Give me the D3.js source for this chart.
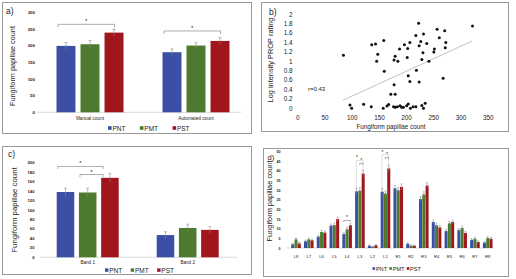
<!DOCTYPE html>
<html>
<head>
<meta charset="utf-8">
<script src="https://cdn.jsdelivr.net/npm/d3@7"></script>
<style>
  body { margin: 0; background: #fff; }
  svg text { font-family: "Liberation Sans", Arial, sans-serif; fill: #222; }
</style>
</head>
<body>
<div id="fig"></div>
<script>
// ---- data ----
var seriesNames = ["PNT", "PMT", "PST"];
var seriesColors = ["#3b4fa4", "#4d7a2e", "#a1161d"];

// a) total counts
var countCats = ["Manual count", "Automated count"];
var countPNT = [200, 181];
var countPMT = [205, 201];
var countPST = [240, 215];
var countErrPNT = [10, 10];
var countErrPMT = [11, 9];
var countErrPST = [10, 10];
var countTicks = [0, 50, 100, 150, 200, 250, 300];

// b) scatter PROP rating vs count  [count, log intensity]
var propPoints = [
  [84, 1.13], [96, 0.07], [99, 0], [121, 0.085], [135, 0.035], [136, 1.35], [143, 1.37],
  [145, 1.0], [147, 1.15], [158, 1.44], [159, 0.79], [157, 0], [164, 0.05], [167, 0.08],
  [171, 0.30], [179, 0.30], [177, 0.50], [177, 1.03], [179, 1.11], [184, 1.0], [176, 0.035],
  [179, 0.02], [183, 0.035], [188, 0.055], [191, 0.02], [194, 0.02], [187, 1.26], [196, 1.35],
  [202, 1.27], [206, 1.40], [201, 1.08], [203, 0.69], [206, 0.57], [200, 0.055], [203, 0.09],
  [207, 0], [212, 0.035], [218, 0.81], [217, 1.55], [222, 1.81], [223, 1.33], [226, 1.42],
  [231, 1.58], [230, 1.18], [228, 1.04], [237, 1.38], [223, 0.56], [217, 0.035], [228, 0.06],
  [231, 0], [234, 0.11], [241, 1.0], [250, 1.2], [251, 1.26], [256, 1.68], [260, 1.5],
  [270, 1.65], [272, 1.40], [271, 1.29], [267, 0.64], [321, 1.75]
];
var trendX = [83, 320];
var trendY = [0.17, 1.43];
var propXTicks = [0, 50, 100, 150, 200, 250, 300, 350];
var propYTicks = [0, 0.2, 0.4, 0.6, 0.8, 1, 1.2, 1.4, 1.6, 1.8, 2];

// c) counts by band
var bandCats = ["Band 1", "Band 2"];
var bandPNT = [138, 47];
var bandPMT = [137, 62];
var bandPST = [168, 58];
var bandErrPNT = [8, 7];
var bandErrPMT = [9, 8];
var bandErrPST = [9, 7];
var bandTicks = [0, 20, 40, 60, 80, 100, 120, 140, 160, 180, 200];

// d) counts by region
var regions = ["L8", "L7", "L6", "L5", "L4", "L3", "L2", "L1", "R1", "R2", "R3", "R4", "R5", "R6", "R7", "R8"];
var regPNT = [1.9, 3.5, 5.9, 11.6, 7.3, 29.4, 1.2, 29.2, 31.0, 2.2, 25.4, 13.5, 8.8, 9.3, 4.2, 2.8];
var regPMT = [4.5, 4.5, 8.3, 11.9, 9.7, 29.8, 0.7, 28.2, 30.0, 1.2, 27.8, 11.8, 12.8, 10.4, 4.8, 5.2];
var regPST = [2.4, 4.0, 8.0, 15.0, 11.8, 38.6, 1.4, 41.3, 31.7, 1.2, 32.4, 10.7, 13.5, 7.8, 3.1, 4.8];
var regErrPNT = [0.6, 0.6, 0.7, 0.9, 0.9, 1.6, 0.4, 1.6, 1.5, 0.5, 1.3, 1.0, 0.9, 0.9, 0.7, 0.6];
var regErrPMT = [0.8, 0.7, 0.8, 1.0, 1.0, 1.5, 0.3, 1.5, 1.5, 0.4, 1.4, 1.0, 1.0, 1.0, 0.8, 0.8];
var regErrPST = [0.7, 0.7, 0.8, 1.1, 1.0, 1.8, 0.4, 1.8, 1.6, 0.4, 1.5, 1.0, 1.0, 0.9, 0.7, 0.8];
var regTicks = [0, 5, 10, 15, 20, 25, 30, 35, 40, 45, 50];

// significance brackets: category, from series, to series, height (data units), dotted?
var countSig = [["Manual count", 0, 2, 265, false], ["Automated count", 0, 2, 245, false]];
var bandSig = [["Band 1", 0, 2, 192, false], ["Band 1", 1, 2, 175, false]];
var regSig = [["L4", 0, 2, 14.3, false], ["L3", 0, 2, 45.5, true], ["L3", 1, 2, 44, false],
              ["L1", 0, 2, 48.5, true], ["L1", 1, 2, 47, false]];

var svg = d3.select("#fig").append("svg")
  .attr("width", 516)
  .attr("height", 279);

function panelBox(x, y, w, h) {
  svg.append("rect")
    .attr("x", x + 0.5).attr("y", y + 0.5)
    .attr("width", w).attr("height", h)
    .attr("fill", "#fff")
    .attr("stroke", "#9a9a9a")
    .attr("stroke-width", 1);
}

function panelLabel(label, lx, ly, fs) {
  svg.append("text")
    .attr("x", lx).attr("y", ly)
    .attr("font-size", fs)
    .attr("fill", "#111")
    .text(label);
}

// draws one grouped bar panel
function groupedBars(opt) {
  var g = svg.append("g");
  var x0 = d3.scaleBand().domain(opt.cats).range(opt.xRange);
  var x1 = d3.scaleBand().domain(seriesNames).range([-opt.groupW / 2, opt.groupW / 2]).paddingInner(opt.pad);
  var y = d3.scaleLinear().domain([0, opt.ticks[opt.ticks.length - 1]]).range(opt.yRange);
  var mid = function(c, s) { return x0(c) + x0.bandwidth() / 2 + x1(s) + x1.bandwidth() / 2; };

  // baseline
  g.append("line")
    .attr("x1", opt.baseX[0]).attr("x2", opt.baseX[1])
    .attr("y1", y(0)).attr("y2", y(0))
    .attr("stroke", "#d0d0d0").attr("stroke-width", 0.8);

  // y tick labels
  g.selectAll(".yt").data(opt.ticks).enter().append("text")
    .attr("x", opt.tickX).attr("y", function(d) { return y(d) + 1.5; })
    .attr("text-anchor", "end")
    .attr("font-size", opt.tickSize)
    .attr("font-weight", "bold")
    .attr("fill", "#333")
    .text(function(d) { return d; });

  // y title
  g.append("text")
    .attr("transform", "translate(" + opt.titleX + "," + opt.titleY + ") rotate(-90)")
    .attr("text-anchor", "middle")
    .attr("font-size", opt.titleSize)
    .text("Fungiform papillae count");

  seriesNames.forEach(function(s, si) {
    var vals = opt.values[si];
    var errs = opt.errs[si];
    g.selectAll(".bar" + si).data(opt.cats).enter().append("rect")
      .attr("x", function(c) { return x0(c) + x0.bandwidth() / 2 + x1(s); })
      .attr("y", function(c, i) { return y(vals[i]); })
      .attr("width", x1.bandwidth())
      .attr("height", function(c, i) { return y(0) - y(vals[i]); })
      .attr("fill", seriesColors[si]);
    // error bars
    g.selectAll(".err" + si).data(opt.cats).enter().append("line")
      .attr("x1", function(c) { return mid(c, s); })
      .attr("x2", function(c) { return mid(c, s); })
      .attr("y1", function(c, i) { return y(vals[i] + errs[i]); })
      .attr("y2", function(c, i) { return y(vals[i] - errs[i]); })
      .attr("stroke", "#8a8a8a").attr("stroke-width", 0.6);
    g.selectAll(".cap" + si).data(opt.cats).enter().append("line")
      .attr("x1", function(c) { return mid(c, s) - opt.capW; })
      .attr("x2", function(c) { return mid(c, s) + opt.capW; })
      .attr("y1", function(c, i) { return y(vals[i] + errs[i]); })
      .attr("y2", function(c, i) { return y(vals[i] + errs[i]); })
      .attr("stroke", "#8a8a8a").attr("stroke-width", 0.6);
  });

  // category labels
  g.selectAll(".cat").data(opt.cats).enter().append("text")
    .attr("x", function(c) { return x0(c) + x0.bandwidth() / 2; })
    .attr("y", opt.catY)
    .attr("text-anchor", "middle")
    .attr("font-size", opt.catSize)
    .attr("fill", "#333")
    .text(function(c) { return c; });

  // significance brackets
  opt.sig.forEach(function(b) {
    var c = b[0];
    var ci = opt.cats.indexOf(c);
    var xa = x0(c) + x0.bandwidth() / 2 + x1(seriesNames[b[1]]) + opt.sigInset[0];
    var xb = x0(c) + x0.bandwidth() / 2 + x1(seriesNames[b[2]]) + opt.sigInset[1];
    var yy = y(b[3]);
    var ya = b[4] ? y(opt.values[b[1]][ci]) - 2 : yy + opt.tickDown;
    var yb = b[4] ? y(opt.values[b[2]][ci]) - 2 : yy + opt.tickDown;
    g.append("path")
      .attr("d", "M" + xa + "," + ya + "V" + yy + "H" + xb + "V" + yb)
      .attr("fill", "none")
      .attr("stroke", b[4] ? "#9a9a9a" : "#777")
      .attr("stroke-width", 0.6)
      .attr("stroke-dasharray", b[4] ? "1,1" : null);
    g.append("text")
      .attr("x", b[4] ? xa + 0.5 : (xa + xb) / 2)
      .attr("y", yy - 1)
      .attr("text-anchor", "middle")
      .attr("font-size", opt.starSize)
      .text("*");
  });

  // legend: entries laid out one after the other
  var lg = g.append("g");
  var lx = opt.legendX;
  seriesNames.forEach(function(s, si) {
    lg.append("rect")
      .attr("x", lx).attr("y", opt.legendY - opt.legendSq + 0.3)
      .attr("width", opt.legendSq).attr("height", opt.legendSq)
      .attr("fill", seriesColors[si]);
    var t = lg.append("text")
      .attr("x", lx + opt.legendSq + 0.8).attr("y", opt.legendY + 1)
      .attr("font-size", opt.legendSize)
      .text(s);
    lx += opt.legendSq + 0.8 + t.node().getComputedTextLength() + opt.legendGap;
  });
}

// ---- a) ----
panelBox(2, 2, 249, 131);
groupedBars({
  cats: countCats,
  values: [countPNT, countPMT, countPST],
  errs: [countErrPNT, countErrPMT, countErrPST],
  ticks: countTicks,
  xRange: [37, 249], groupW: 67, pad: 0.21,
  yRange: [112.3, 12.7],
  baseX: [37, 241],
  tickX: 35, tickSize: 4.4,
  titleX: 15, titleY: 66, titleSize: 7.3,
  catY: 119.5, catSize: 4.7,
  capW: 1.5,
  sig: countSig, sigInset: [1.5, 10], tickDown: 3, starSize: 6,
  legendX: 108, legendY: 129.5, legendSq: 3.6, legendSize: 6.5, legendGap: 14.5
});
panelLabel("a)", 6, 14, 8.5);

// ---- c) ----
panelBox(2, 146, 249, 128);
groupedBars({
  cats: bandCats,
  values: [bandPNT, bandPMT, bandPST],
  errs: [bandErrPNT, bandErrPMT, bandErrPST],
  ticks: bandTicks,
  xRange: [37.7, 237.7], groupW: 62, pad: 0.21,
  yRange: [257.3, 162.7],
  baseX: [40, 237],
  tickX: 34.5, tickSize: 4.2,
  titleX: 17, titleY: 210, titleSize: 7.8,
  catY: 264, catSize: 4.6,
  capW: 1.3,
  sig: bandSig, sigInset: [1, 2], tickDown: 2.5, starSize: 6,
  legendX: 105, legendY: 271.5, legendSq: 3.4, legendSize: 6.5, legendGap: 8.5
});
panelLabel("c)", 8, 157, 8.5);

// ---- d) ----
panelBox(263, 148, 245, 128);
groupedBars({
  cats: regions,
  values: [regPNT, regPMT, regPST],
  errs: [regErrPNT, regErrPMT, regErrPST],
  ticks: regTicks,
  xRange: [289.6, 494.1], groupW: 9.6, pad: 0.08,
  yRange: [248, 151.7],
  baseX: [287, 494],
  tickX: 280.5, tickSize: 3.6,
  titleX: 271.5, titleY: 201, titleSize: 7.4,
  catY: 257.5, catSize: 4.2,
  capW: 0.8,
  sig: regSig, sigInset: [1.3, 1.3], tickDown: 1.5, starSize: 5,
  legendX: 372.5, legendY: 269.5, legendSq: 2.6, legendSize: 5.6, legendGap: 2.2
});
panelLabel("d)", 267.5, 160, 7.5);

// ---- b) scatter ----
panelBox(261, 2, 247, 129);
var bx = d3.scaleLinear().domain([0, 350]).range([297.7, 488.3]);
var by = d3.scaleLinear().domain([0, 2]).range([108.3, 14.3]);
var gb = svg.append("g");

gb.selectAll(".xt").data(propXTicks).enter().append("text")
  .attr("x", function(d) { return bx(d); })
  .attr("y", 119.5)
  .attr("text-anchor", "middle")
  .attr("font-size", 6.3)
  .attr("fill", "#444")
  .text(function(d) { return d; });

gb.selectAll(".yt").data(propYTicks).enter().append("text")
  .attr("x", 292.5)
  .attr("y", function(d) { return by(d) + 2.2; })
  .attr("text-anchor", "end")
  .attr("font-size", 6.3)
  .attr("fill", "#444")
  .text(function(d) { return d3.format("~g")(d); });

gb.append("text")
  .attr("x", 391).attr("y", 128.5)
  .attr("text-anchor", "middle")
  .attr("font-size", 6.3)
  .attr("fill", "#444")
  .text("Fungiform papillae count");

gb.append("text")
  .attr("transform", "translate(273,60) rotate(-90)")
  .attr("text-anchor", "middle")
  .attr("font-size", 7.4)
  .attr("fill", "#333")
  .text("Log intensity PROP rating");

gb.append("line")
  .attr("x1", bx(trendX[0])).attr("y1", by(trendY[0]))
  .attr("x2", bx(trendX[1])).attr("y2", by(trendY[1]))
  .attr("stroke", "#a8a8a8").attr("stroke-width", 0.7);

gb.selectAll("circle").data(propPoints).enter().append("circle")
  .attr("cx", function(d) { return bx(d[0]); })
  .attr("cy", function(d) { return by(d[1]); })
  .attr("r", 1.5)
  .attr("fill", "#111");

gb.append("text")
  .attr("x", 316.5).attr("y", 90.5)
  .attr("text-anchor", "middle")
  .attr("font-size", 6)
  .attr("fill", "#444")
  .text("r=0.43");
panelLabel("b)", 269, 15, 8.5);
</script>
</body>
</html>
